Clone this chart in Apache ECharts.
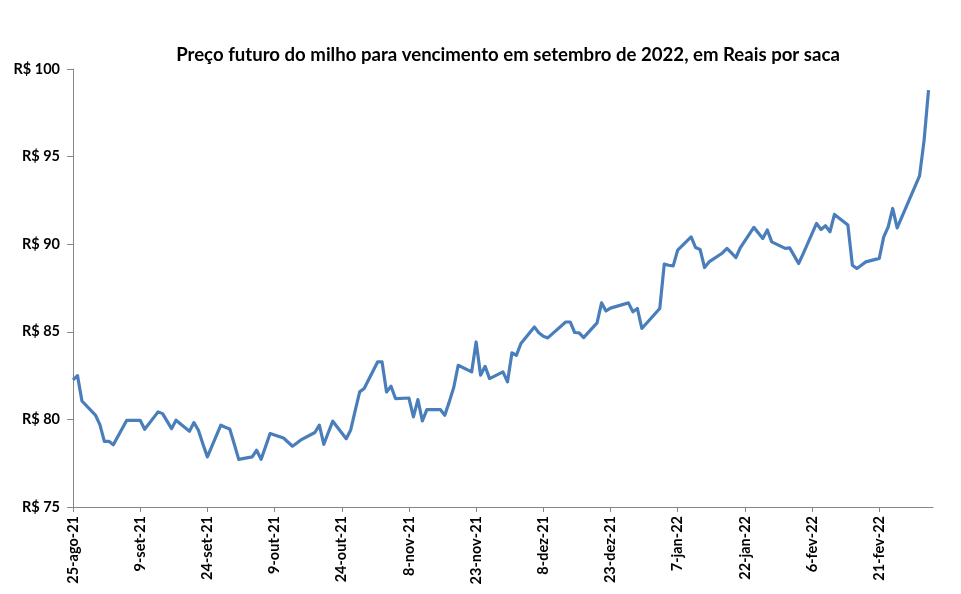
<!DOCTYPE html>
<html>
<head>
<meta charset="utf-8">
<script src="https://cdn.jsdelivr.net/npm/echarts@6/dist/echarts.min.js"></script>
<style>
html,body{margin:0;padding:0;background:#fff;}
#chart{width:961px;height:594px;}
</style>
</head>
<body>
<div id="chart"></div>
<script>
// Trading dates and settlement prices (R$/saca)
var dates = [
'2021-08-25','2021-08-26','2021-08-27','2021-08-30','2021-08-31',
'2021-09-01','2021-09-02','2021-09-03','2021-09-06','2021-09-08','2021-09-09','2021-09-10',
'2021-09-13','2021-09-14','2021-09-15','2021-09-16','2021-09-17',
'2021-09-20','2021-09-21','2021-09-22','2021-09-23','2021-09-24',
'2021-09-27','2021-09-28','2021-09-29','2021-09-30','2021-10-01',
'2021-10-04','2021-10-05','2021-10-06','2021-10-07','2021-10-08',
'2021-10-11','2021-10-13','2021-10-14','2021-10-15',
'2021-10-18','2021-10-19','2021-10-20','2021-10-21','2021-10-22',
'2021-10-25','2021-10-26','2021-10-27','2021-10-28','2021-10-29',
'2021-11-01','2021-11-02','2021-11-03','2021-11-04','2021-11-05',
'2021-11-08','2021-11-09','2021-11-10','2021-11-11','2021-11-12',
'2021-11-15','2021-11-16','2021-11-17','2021-11-18','2021-11-19',
'2021-11-22','2021-11-23','2021-11-24','2021-11-25','2021-11-26',
'2021-11-29','2021-11-30','2021-12-01','2021-12-02','2021-12-03',
'2021-12-06','2021-12-07','2021-12-08','2021-12-09','2021-12-10',
'2021-12-13','2021-12-14','2021-12-15','2021-12-16','2021-12-17',
'2021-12-20','2021-12-21','2021-12-22','2021-12-23',
'2021-12-27','2021-12-28','2021-12-29','2021-12-30',
'2022-01-03','2022-01-04','2022-01-05','2022-01-06','2022-01-07',
'2022-01-10','2022-01-11','2022-01-12','2022-01-13','2022-01-14',
'2022-01-17','2022-01-18','2022-01-19','2022-01-20','2022-01-21',
'2022-01-24','2022-01-26','2022-01-27','2022-01-28',
'2022-01-31','2022-02-01','2022-02-02','2022-02-03','2022-02-04',
'2022-02-07','2022-02-08','2022-02-09','2022-02-10','2022-02-11',
'2022-02-14','2022-02-15','2022-02-16','2022-02-17','2022-02-18',
'2022-02-21','2022-02-22','2022-02-23','2022-02-24','2022-02-25',
'2022-03-02','2022-03-03','2022-03-04'
];
var prices = [
82.25,82.5,81.05,80.25,79.7,
78.75,78.75,78.55,79.95,79.95,79.95,79.44,
80.43,80.33,79.9,79.47,79.95,
79.32,79.82,79.38,78.6,77.86,
79.67,79.55,79.45,78.6,77.72,
77.86,78.24,77.72,78.45,79.19,
78.94,78.47,78.65,78.85,
79.25,79.67,78.58,79.25,79.9,
78.9,79.4,80.5,81.57,81.76,
83.28,83.28,81.57,81.89,81.19,
81.22,80.14,81.13,79.91,80.56,
80.56,80.24,81.0,81.82,83.09,
82.71,84.42,82.52,83.03,82.33,
82.71,82.14,83.8,83.66,84.33,
85.28,84.95,84.75,84.65,84.88,
85.56,85.56,84.96,84.94,84.67,
85.51,86.65,86.19,86.35,
86.65,86.14,86.33,85.19,
86.33,88.86,88.8,88.76,89.66,
90.42,89.81,89.7,88.67,88.99,
89.5,89.76,89.5,89.24,89.81,
90.96,90.33,90.81,90.13,
89.76,89.79,89.35,88.9,89.45,
91.19,90.84,91.05,90.71,91.7,
91.09,88.8,88.61,88.8,88.99,
89.19,90.42,90.99,92.04,90.93,
93.9,95.9,98.8
];
var startDate = '2021-08-25';
var endDate = '2022-03-05';
var tickStepDays = 15;
var yTicks = [75, 80, 85, 90, 95, 100];
var monthNames = ['jan','fev','mar','abr','mai','jun','jul','ago','set','out','nov','dez'];

function dayNum(s){var p=s.split('-');return Date.UTC(+p[0],+p[1]-1,+p[2])/86400000;}
var d0 = dayNum(startDate);
var dMax = dayNum(endDate) - d0;
var seriesData = dates.map(function(d,i){return [dayNum(d)-d0, prices[i]];});
var tickVals = [];
for (var t = 0; t <= dMax; t += tickStepDays) tickVals.push(t);
function fmtDay(v){
  var dt = new Date((d0 + v) * 86400000);
  return dt.getUTCDate() + '-' + monthNames[dt.getUTCMonth()] + '-' + String(dt.getUTCFullYear()).slice(2);
}

var chart = echarts.init(document.getElementById('chart'));
var FONT = 'Lato';
chart.setOption({
  animation: false,
  backgroundColor: '#fff',
  title: {
    text: 'Preço futuro do milho para vencimento em setembro de 2022, em Reais por saca',
    left: 503, textAlign: 'center', top: 40,
    textStyle: {fontFamily: FONT, fontSize: 18.6, fontWeight: 'bold', color: '#000'}
  },
  grid: {left: 73, right: 28, top: 69, bottom: 87, containLabel: false},
  xAxis: {
    type: 'value', min: 0, max: dMax, interval: tickStepDays,
    axisLine: {show: true, lineStyle: {color: '#868686', width: 1}},
    axisTick: {show: true, length: 5, customValues: tickVals, lineStyle: {color: '#868686'}},
    axisLabel: {
      customValues: tickVals, rotate: 90, margin: 9,
      fontFamily: FONT, fontSize: 14.5, fontWeight: 'bold', color: '#000',
      formatter: function(v){return fmtDay(v);}
    },
    splitLine: {show: false}
  },
  yAxis: {
    type: 'value', min: yTicks[0], max: yTicks[yTicks.length-1], interval: 5,
    axisLine: {show: true, lineStyle: {color: '#868686', width: 1}},
    axisTick: {show: true, length: 6, lineStyle: {color: '#868686'}},
    axisLabel: {
      margin: 13, fontFamily: FONT, fontSize: 14.5, fontWeight: 'bold', color: '#000',
      formatter: function(v){return 'R$ ' + v;}
    },
    splitLine: {show: false}
  },
  series: [{
    type: 'line', data: seriesData, showSymbol: false, symbol: 'none',
    lineStyle: {color: '#4A7EBB', width: 3.2, join: 'round'},
    itemStyle: {color: '#4A7EBB'}
  }]
});
</script>
</body>
</html>
